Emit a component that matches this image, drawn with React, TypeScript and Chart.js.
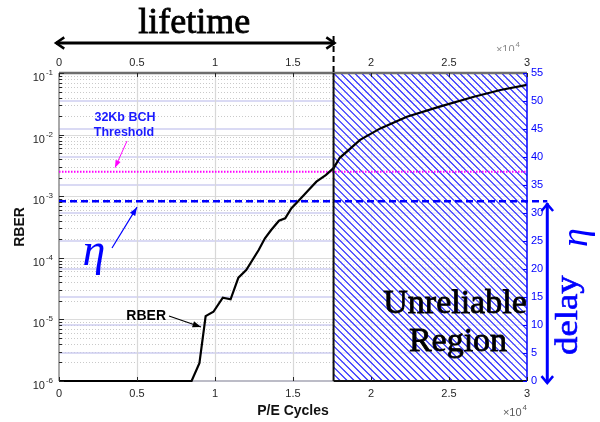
import { useEffect, useRef } from 'react';
import { Chart, registerables } from 'chart.js';

Chart.register(...registerables);

// P/E cycles (in units of 10^4) and the raw bit error rate measured at each
const peCycles = [0, 0.85, 0.9, 0.94, 0.99, 1.05, 1.1, 1.15, 1.2, 1.28, 1.32, 1.36, 1.41, 1.45, 1.49, 1.53, 1.6, 1.65, 1.71, 1.76, 1.8, 1.93, 2.06, 2.23, 2.44, 2.66, 2.83, 3.0];
const rberValues = [1e-6, 1e-6, 1.94e-6, 1.13e-5, 1.33e-5, 2.25e-5, 2.12e-5, 4.75e-5, 6.3e-5, 1.34e-4, 2.07e-4, 2.83e-4, 4.0e-4, 4.38e-4, 6.37e-4, 8.15e-4, 1.26e-3, 1.72e-3, 2.2e-3, 2.85e-3, 4.2e-3, 8.2e-3, 1.26e-2, 1.95e-2, 2.84e-2, 4.12e-2, 5.3e-2, 6.4e-2];

const BCH_THRESHOLD = 2.5e-3; // correctable RBER of a 32Kb BCH code
const ETA = 8.3e-4; // retirement threshold η
const UNRELIABLE_FROM = 1.76; // P/E cycles (x10^4) where the lifetime ends
const ETA_LINE_END = 3.13; // the η line runs on past the delay axis

const xTicks = [0, 0.5, 1, 1.5, 2, 2.5, 3];
const xTickLabels = ['0', '0.5', '1', '1.5', '2', '2.5', '3'];
const rberExponents = [-6, -5, -4, -3, -2, -1];
const delayTicks = [0, 5, 10, 15, 20, 25, 30, 35, 40, 45, 50, 55];

const SANS = '"Liberation Sans", Arial, Helvetica, sans-serif';
const SERIF = '"Liberation Serif", "Times New Roman", serif';
const BLUE = '#0000ff';
const TICK_TEXT = '#262626';

function seg(ctx: CanvasRenderingContext2D, x1: number, y1: number, x2: number, y2: number) {
  ctx.beginPath();
  ctx.moveTo(x1, y1);
  ctx.lineTo(x2, y2);
  ctx.stroke();
}

function head(ctx: CanvasRenderingContext2D, x1: number, y1: number, x2: number, y2: number, len: number, spread: number, filled: boolean) {
  const ang = Math.atan2(y2 - y1, x2 - x1);
  const a1 = ang + Math.PI - spread;
  const a2 = ang + Math.PI + spread;
  ctx.beginPath();
  ctx.moveTo(x2 + len * Math.cos(a1), y2 + len * Math.sin(a1));
  ctx.lineTo(x2, y2);
  ctx.lineTo(x2 + len * Math.cos(a2), y2 + len * Math.sin(a2));
  if (filled) {
    ctx.closePath();
    ctx.fill();
  } else {
    ctx.stroke();
  }
}

// text with a thin outline in its own colour, for the heavier serif captions
function heavyText(ctx: CanvasRenderingContext2D, text: string, px: number, py: number, weight: number) {
  ctx.fillText(text, px, py);
  ctx.lineWidth = weight;
  ctx.strokeText(text, px, py);
}

function powerLabel(ctx: CanvasRenderingContext2D, base: string, exp: string, right: number, baseY: number, color: string, baseSize: number, expSize: number, expRise: number) {
  ctx.fillStyle = color;
  ctx.textAlign = 'left';
  ctx.textBaseline = 'alphabetic';
  ctx.font = `${expSize}px ${SANS}`;
  const we = ctx.measureText(exp).width;
  ctx.font = `${baseSize}px ${SANS}`;
  const wb = ctx.measureText(base).width;
  const left = right - we - wb - 1;
  ctx.fillText(base, left, baseY);
  ctx.font = `${expSize}px ${SANS}`;
  ctx.fillText(exp, left + wb + 1, baseY - expRise);
}

const decorations = {
  id: 'decorations',
  beforeDatasetsDraw(chart: any) {
    const { ctx, chartArea: a, scales } = chart;
    const x = scales.x;
    const y = scales.y;
    const yR = scales.yR;
    ctx.save();

    // minor log grid (dotted)
    ctx.lineWidth = 1;
    ctx.strokeStyle = '#c9c9c9';
    ctx.setLineDash([1, 2]);
    for (const e of rberExponents.slice(0, -1)) {
      for (let m = 2; m <= 9; m++) {
        const py = Math.round(y.getPixelForValue(m * Math.pow(10, e))) + 0.5;
        seg(ctx, a.left, py, a.right, py);
      }
    }
    ctx.setLineDash([]);

    // decade lines
    ctx.strokeStyle = '#dcdcdc';
    for (const e of rberExponents.slice(1, -1)) {
      const py = Math.round(y.getPixelForValue(Math.pow(10, e))) + 0.5;
      seg(ctx, a.left, py, a.right, py);
    }

    // delay axis grid
    ctx.strokeStyle = 'rgba(200,200,238,0.9)';
    ctx.lineWidth = 1.5;
    for (const t of delayTicks.slice(1, -1)) {
      const py = yR.getPixelForValue(t);
      seg(ctx, a.left, py, a.right, py);
    }

    // cycle grid
    ctx.strokeStyle = '#d8d8d8';
    ctx.lineWidth = 1.2;
    for (const t of xTicks.slice(1, -1)) {
      const px = Math.round(x.getPixelForValue(t)) + 0.5;
      seg(ctx, px, a.top, px, a.bottom);
    }

    // hatched unreliable region
    const hx = x.getPixelForValue(UNRELIABLE_FROM);
    ctx.fillStyle = 'rgba(255,255,255,0.6)';
    ctx.fillRect(hx, a.top, a.right - hx, a.bottom - a.top);
    ctx.save();
    ctx.beginPath();
    ctx.rect(hx, a.top, a.right - hx, a.bottom - a.top);
    ctx.clip();
    ctx.strokeStyle = '#1f1fff';
    ctx.lineWidth = 1.1;
    const h = a.bottom - a.top;
    for (let k = hx - h; k < a.right + 10; k += 7) {
      seg(ctx, k, a.top, k + h, a.bottom);
    }
    ctx.restore();

    // left, top and bottom axis lines (the curve is drawn over them)
    ctx.strokeStyle = '#8c8c8c';
    ctx.lineWidth = 1.5;
    seg(ctx, a.left, a.top, a.left, a.bottom);
    ctx.strokeStyle = '#a6a6b4';
    seg(ctx, a.left, a.bottom, hx, a.bottom);
    ctx.strokeStyle = '#6e6e6e';
    ctx.lineWidth = 2.5;
    seg(ctx, a.left, a.top, a.right, a.top);

    ctx.restore();
  },
  afterDatasetsDraw(chart: any) {
    const { ctx, chartArea: a, scales } = chart;
    const x = scales.x;
    const y = scales.y;
    const yR = scales.yR;
    const hx = x.getPixelForValue(UNRELIABLE_FROM);
    ctx.save();

    // region outline and delay axis line
    ctx.strokeStyle = '#111';
    ctx.lineWidth = 2;
    seg(ctx, hx, a.bottom, a.right, a.bottom);
    seg(ctx, hx, a.top, hx, a.bottom);
    ctx.strokeStyle = BLUE;
    ctx.lineWidth = 1.5;
    seg(ctx, a.right, a.top, a.right, a.bottom);

    // tick marks
    ctx.strokeStyle = TICK_TEXT;
    ctx.lineWidth = 1;
    for (const e of rberExponents) {
      for (let m = 1; m <= (e === -1 ? 1 : 9); m++) {
        const py = Math.round(y.getPixelForValue(m * Math.pow(10, e))) + 0.5;
        seg(ctx, a.left, py, a.left + (m === 1 ? 5 : 3), py);
      }
    }
    for (const t of xTicks) {
      const px = Math.round(x.getPixelForValue(t)) + 0.5;
      seg(ctx, px, a.bottom, px, a.bottom - 4);
      seg(ctx, px, a.top, px, a.top + 4);
    }
    ctx.strokeStyle = BLUE;
    for (const t of delayTicks) {
      const py = Math.round(yR.getPixelForValue(t)) + 0.5;
      seg(ctx, a.right, py, a.right - 4, py);
    }

    // tick labels
    ctx.fillStyle = TICK_TEXT;
    ctx.font = `11px ${SANS}`;
    ctx.textAlign = 'center';
    ctx.textBaseline = 'alphabetic';
    xTicks.forEach((t, i) => {
      const px = x.getPixelForValue(t);
      ctx.fillText(xTickLabels[i], px, a.bottom + 16);
      ctx.fillText(xTickLabels[i], px, a.top - 7);
    });
    for (const e of rberExponents) {
      const py = y.getPixelForValue(Math.pow(10, e));
      powerLabel(ctx, '10', String(e), a.left - 6, py + 8, TICK_TEXT, 11, 8, 6);
    }
    ctx.fillStyle = BLUE;
    ctx.font = `11px ${SANS}`;
    ctx.textAlign = 'left';
    ctx.textBaseline = 'middle';
    for (const t of delayTicks) {
      ctx.fillText(String(t), a.right + 4, yR.getPixelForValue(t));
    }

    // scale multipliers
    powerLabel(ctx, '\u00d710', '4', a.right, a.bottom + 35, '#5a5a5a', 11, 8, 6);
    ctx.save();
    ctx.beginPath();
    ctx.rect(a.right - 40, a.top - 40, 40, 18);
    ctx.clip();
    powerLabel(ctx, '\u00d710', '4', a.right - 7, a.top - 20, '#8a8a8a', 11, 8, 6);
    ctx.restore();

    // axis titles
    ctx.fillStyle = '#111';
    ctx.font = `bold 14px ${SANS}`;
    ctx.textAlign = 'center';
    ctx.textBaseline = 'alphabetic';
    ctx.fillText('P/E Cycles', (a.left + a.right) / 2, a.bottom + 34);
    ctx.save();
    ctx.translate(24, (a.top + a.bottom) / 2);
    ctx.rotate(-Math.PI / 2);
    ctx.fillText('RBER', 0, 0);
    ctx.restore();

    // lifetime span
    const x0 = x.getPixelForValue(0);
    ctx.strokeStyle = '#000';
    ctx.fillStyle = '#000';
    ctx.lineWidth = 3;
    seg(ctx, x0 - 3, 43, hx + 1, 43);
    ctx.lineWidth = 2.5;
    head(ctx, hx + 1, 43, x0 - 3, 43, 10, 0.6, false);
    head(ctx, x0 - 3, 43, hx + 1, 43, 10, 0.6, false);
    ctx.lineWidth = 2;
    ctx.setLineDash([6, 4]);
    seg(ctx, hx, 36, hx, a.top);
    ctx.setLineDash([]);
    ctx.font = `36px ${SERIF}`;
    ctx.textAlign = 'center';
    heavyText(ctx, 'lifetime', (x0 + hx) / 2 - 2, 33, 0.8);

    // BCH threshold callout
    const yB = y.getPixelForValue(BCH_THRESHOLD);
    ctx.fillStyle = '#1a1aff';
    ctx.font = `bold 12.5px ${SANS}`;
    ctx.fillText('32Kb BCH', 125, 121);
    ctx.fillText('Threshold', 124, 136);
    ctx.strokeStyle = '#ff00ff';
    ctx.fillStyle = '#ff00ff';
    ctx.lineWidth = 1;
    seg(ctx, 127, 141, 115, yB - 4);
    head(ctx, 127, 141, 115, yB - 4, 8, 0.35, true);

    // η callout
    const yE = y.getPixelForValue(ETA);
    const xHalf = x.getPixelForValue(0.5);
    ctx.fillStyle = BLUE;
    ctx.font = `italic 46px ${SERIF}`;
    ctx.fillText('\u03b7', 94, 265);
    ctx.strokeStyle = BLUE;
    ctx.lineWidth = 1.2;
    seg(ctx, 112, 248, xHalf, yE + 6);
    head(ctx, 112, 248, xHalf, yE + 6, 9, 0.35, true);

    // RBER curve label
    ctx.fillStyle = '#000';
    ctx.strokeStyle = '#000';
    ctx.font = `bold 14px ${SANS}`;
    ctx.textAlign = 'right';
    ctx.fillText('RBER', 166, 320);
    ctx.lineWidth = 1.2;
    seg(ctx, 169, 316, 201, 327);
    head(ctx, 169, 316, 201, 327, 9, 0.35, true);

    // unreliable region label
    ctx.textAlign = 'center';
    ctx.font = `34px ${SERIF}`;
    heavyText(ctx, 'Unreliable', 455, 313, 0.8);
    heavyText(ctx, 'Region', 458, 351, 0.8);

    // delay arrow between 0 and η
    const xd = x.getPixelForValue(ETA_LINE_END);
    const y0 = yR.getPixelForValue(0) + 2;
    ctx.strokeStyle = BLUE;
    ctx.lineWidth = 3;
    seg(ctx, xd, yE + 2, xd, y0);
    ctx.lineWidth = 2.5;
    head(ctx, xd, y0, xd, yE + 3, 9, 0.7, false);
    head(ctx, xd, yE + 3, xd, y0, 9, 0.7, false);

    ctx.save();
    ctx.translate(577, 355);
    ctx.rotate(-Math.PI / 2);
    ctx.fillStyle = BLUE;
    ctx.strokeStyle = BLUE;
    ctx.textAlign = 'left';
    ctx.font = `32px ${SERIF}`;
    ctx.save();
    ctx.scale(1.15, 1);
    heavyText(ctx, 'delay', 0, 0, 0.6);
    ctx.restore();
    ctx.font = `italic 38px ${SERIF}`;
    ctx.fillText('\u03b7', 108, 10);
    ctx.restore();

    ctx.restore();
  },
};

export default function App() {
  const canvasRef = useRef<HTMLCanvasElement | null>(null);

  useEffect(() => {
    const canvas = canvasRef.current;
    if (!canvas) return;
    const chart = new Chart(canvas, {
      type: 'line',
      data: {
        datasets: [
          {
            label: 'RBER',
            data: peCycles.map((c, i) => ({ x: c, y: rberValues[i] })),
            borderColor: '#000',
            borderWidth: 2.2,
            pointRadius: 0,
            tension: 0,
            clip: 2 as any,
            xAxisID: 'x',
            yAxisID: 'y',
            order: 1,
          },
          {
            label: '32Kb BCH Threshold',
            data: [
              { x: 0, y: BCH_THRESHOLD },
              { x: 3, y: BCH_THRESHOLD },
            ],
            borderColor: '#ff00ff',
            borderWidth: 2,
            borderDash: [1.5, 1.5],
            pointRadius: 0,
            xAxisID: 'x',
            yAxisID: 'y',
            order: 3,
          },
          {
            label: '\u03b7',
            data: [
              { x: 0, y: ETA },
              { x: ETA_LINE_END, y: ETA },
            ],
            borderColor: BLUE,
            borderWidth: 2.5,
            borderDash: [7, 4],
            pointRadius: 0,
            clip: false as any,
            xAxisID: 'x',
            yAxisID: 'y',
            order: 2,
          },
        ],
      },
      options: {
        responsive: false,
        animation: false,
        layout: { padding: { left: 59, right: 73, top: 73, bottom: 41 } },
        plugins: { legend: { display: false }, tooltip: { enabled: false } },
        scales: {
          x: { type: 'linear', min: 0, max: 3, display: false },
          y: { type: 'logarithmic', min: 1e-6, max: 1e-1, display: false },
          yR: { type: 'linear', position: 'right', min: 0, max: 55, display: false },
        },
      },
      plugins: [decorations],
    });
    return () => chart.destroy();
  }, []);

  return (
    <div style={{ position: 'fixed', left: 0, top: 0, width: 600, height: 422, background: '#fff' }}>
      <canvas ref={canvasRef} width={600} height={422} style={{ display: 'block' }} />
    </div>
  );
}
